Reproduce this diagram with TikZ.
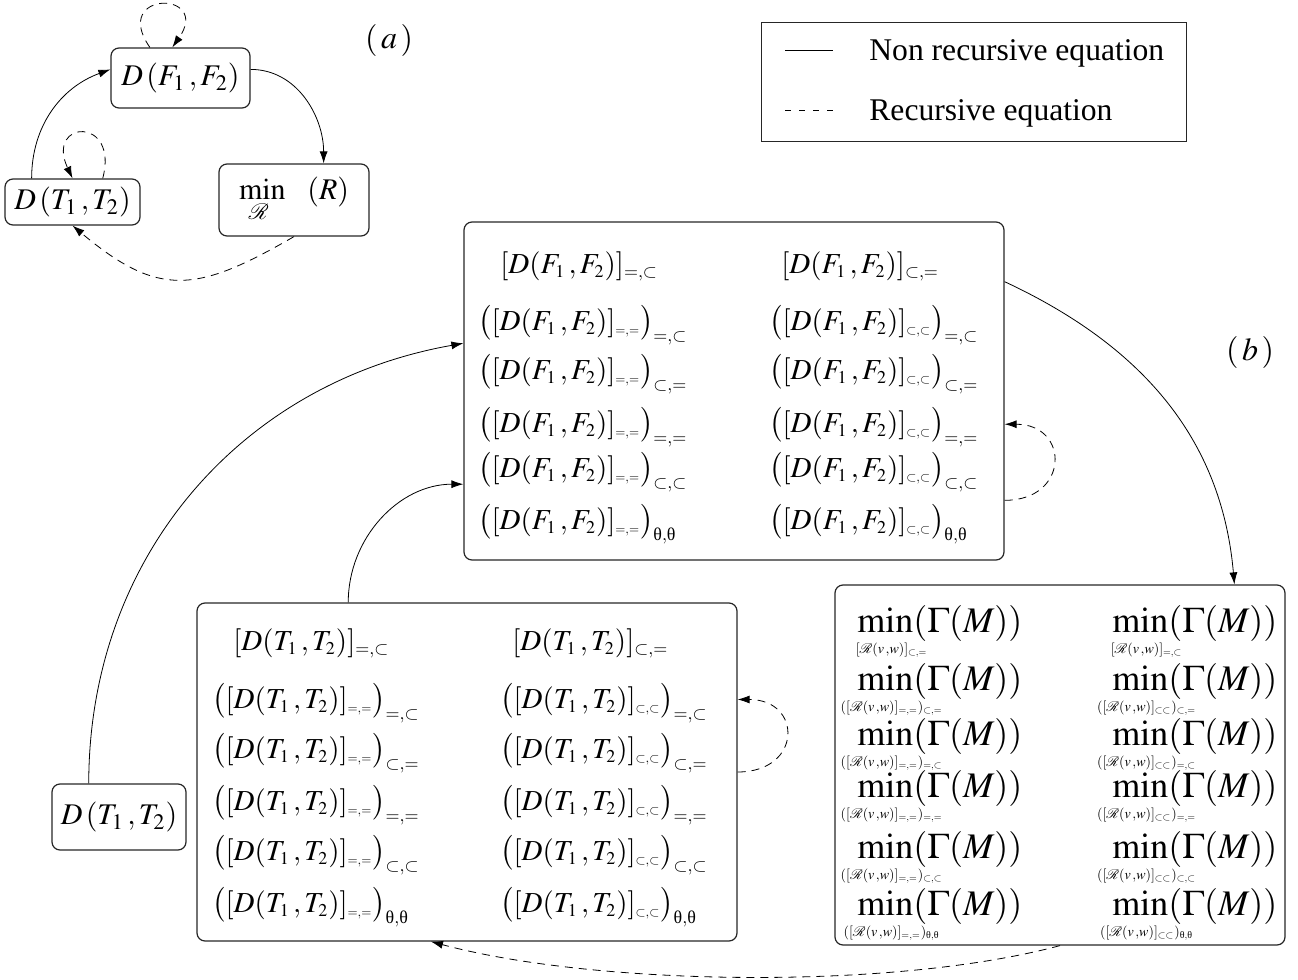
\documentclass[tikz,border=0pt]{standalone}
\usepackage{mathtools}
\usepackage{mathptmx}
\usepackage{fontspec}
\setmainfont{Liberation Serif}
\usetikzlibrary{arrows.meta}

\DeclareMathSizes{14.5}{14.5}{9}{6.5}
\DeclareMathSizes{18}{18}{7}{5}

\newcommand{\DF}{D(F_1\,,F_2)}
\newcommand{\DT}{D(T_1\,,T_2)}
\newcommand{\RR}{\mathcal{R}(v\,,w)}
\newcommand{\thth}{\text{θ},\text{θ}}
\newcommand{\mingam}[1]{\min\limits_{\mathclap{\mkern16mu #1}}(\Gamma(M))}

\tikzset{
  box/.style={draw=black!85, rounded corners=4pt, inner sep=0pt, line width=0.6pt},
  small/.style={box, font=\fontsize{15}{18}\selectfont},
  eq/.style={anchor=base west, inner sep=0pt, font=\fontsize{14.5}{17}\selectfont},
  mineq/.style={anchor=base west, inner sep=0pt, font=\fontsize{18}{20}\selectfont},
  lbl/.style={font=\fontsize{16}{19}\selectfont},
  leg/.style={anchor=base west, inner sep=0pt, font=\fontsize{15.8}{19}\selectfont},
  rec/.style={dash pattern=on 4pt off 3pt},
  >={Latex[length=6pt,width=4pt]}
}

\begin{document}
\begin{tikzpicture}[x=0.5pt,y=-0.5pt]
  \useasboundingbox (0,0) rectangle (1298,980);

  % (a)
  \node (dF) [small, minimum width=69.5pt, minimum height=30pt] at (180.5,78) {$D\,(F_1\,,F_2)$};
  \node (minR) [small, minimum width=75pt, minimum height=36pt] at (294,200) {$\min\limits_{\mathclap{\mathcal{R}\mkern6mu}}\mkern13mu(R)$};
  \node (dT) [small, minimum width=67.5pt, minimum height=23pt] at (72.5,202) {$D\,(T_1\,,T_2)$};
  \node (a) [lbl] at (389,40) {$(\,a\,)$};

  \path[->] (dT.150) edge[out=90, in=200] (dF.173)
            (dF.7) edge[out=0, in=90] (minR.51)
            ;
  \path[->, rec] (minR.south) edge[out=210, in=-40, looseness=1.3] (dT.south)
                 (dF.135.5) edge[out=125, in=55, looseness=8] (dF.105.8)
                 (dT.38) edge[out=75, in=115, looseness=5.5] (dT.90)
                 ;

  % legend
  \node (legend) [draw=black!85, inner sep=0pt, minimum width=212.5pt, minimum height=59.5pt] at (973.5,81.5) {};
  \coordinate (s1) at (785,50);
  \coordinate (e1) at (833,50);
  \coordinate (s2) at (785,110);
  \coordinate (e2) at (833,110);
  \draw (s1) -- (e1);
  \draw[dash pattern=on 3pt off 4pt] (s2) -- (e2);
  \node (nonrec) [leg] at (869,60) {Non recursive equation};
  \node (recu) [leg] at (869,120) {Recursive equation};

  % (b)
  \node (b) [lbl] at (1250,352) {$(\,b\,)$};
  \node (dT2) [small, minimum width=67pt, minimum height=33pt] at (119,817) {$D\,(T_1\,,T_2)$};
  \node (F) [box, minimum width=270pt, minimum height=169pt] at (734,391) {};
  \node (T) [box, minimum width=270pt, minimum height=169pt] at (467,772) {};
  \node (M) [box, minimum width=225pt, minimum height=180pt] at (1060,765) {};

  % rows of F
  \node (f1) [eq] at (500,273) {$[\DF]_{=,\subset}$};
  \node (f2) [eq] at (478,330) {$\bigl([\DF]_{\scriptscriptstyle =,=}\bigr)_{=,\subset}$};
  \node (f3) [eq] at (478,379) {$\bigl([\DF]_{\scriptscriptstyle =,=}\bigr)_{\subset,=}$};
  \node (f4) [eq] at (478,432) {$\bigl([\DF]_{\scriptscriptstyle =,=}\bigr)_{=,=}$};
  \node (f5) [eq] at (478,477) {$\bigl([\DF]_{\scriptscriptstyle =,=}\bigr)_{\subset,\subset}$};
  \node (f6) [eq] at (478,529) {$\bigl([\DF]_{\scriptscriptstyle =,=}\bigr)_{\thth}$};
  \node (g1) [eq] at (781,273) {$[\DF]_{\subset,=}$};
  \node (g2) [eq] at (769,330) {$\bigl([\DF]_{\scriptscriptstyle\subset,\subset}\bigr)_{=,\subset}$};
  \node (g3) [eq] at (769,379) {$\bigl([\DF]_{\scriptscriptstyle\subset,\subset}\bigr)_{\subset,=}$};
  \node (g4) [eq] at (769,432) {$\bigl([\DF]_{\scriptscriptstyle\subset,\subset}\bigr)_{=,=}$};
  \node (g5) [eq] at (769,477) {$\bigl([\DF]_{\scriptscriptstyle\subset,\subset}\bigr)_{\subset,\subset}$};
  \node (g6) [eq] at (769,529) {$\bigl([\DF]_{\scriptscriptstyle\subset,\subset}\bigr)_{\thth}$};

  % rows of T
  \node (t1) [eq] at (233,650) {$[\DT]_{=,\subset}$};
  \node (t2) [eq] at (212,708) {$\bigl([\DT]_{\scriptscriptstyle =,=}\bigr)_{=,\subset}$};
  \node (t3) [eq] at (212,758) {$\bigl([\DT]_{\scriptscriptstyle =,=}\bigr)_{\subset,=}$};
  \node (t4) [eq] at (212,810) {$\bigl([\DT]_{\scriptscriptstyle =,=}\bigr)_{=,=}$};
  \node (t5) [eq] at (212,860) {$\bigl([\DT]_{\scriptscriptstyle =,=}\bigr)_{\subset,\subset}$};
  \node (t6) [eq] at (212,912) {$\bigl([\DT]_{\scriptscriptstyle =,=}\bigr)_{\thth}$};
  \node (u1) [eq] at (512,650) {$[\DT]_{\subset,=}$};
  \node (u2) [eq] at (500,708) {$\bigl([\DT]_{\scriptscriptstyle\subset,\subset}\bigr)_{=,\subset}$};
  \node (u3) [eq] at (500,758) {$\bigl([\DT]_{\scriptscriptstyle\subset,\subset}\bigr)_{\subset,=}$};
  \node (u4) [eq] at (500,810) {$\bigl([\DT]_{\scriptscriptstyle\subset,\subset}\bigr)_{=,=}$};
  \node (u5) [eq] at (500,860) {$\bigl([\DT]_{\scriptscriptstyle\subset,\subset}\bigr)_{\subset,\subset}$};
  \node (u6) [eq] at (500,912) {$\bigl([\DT]_{\scriptscriptstyle\subset,\subset}\bigr)_{\thth}$};

  % rows of M
  \node (m1) [mineq] at (857,632) {$\mingam{[\RR]_{\subset,=}}$};
  \node (m2) [mineq] at (857,690) {$\mingam{([\RR]_{=,=})_{\subset,=}}$};
  \node (m3) [mineq] at (857,745) {$\mingam{([\RR]_{=,=})_{=,\subset}}$};
  \node (m4) [mineq] at (857,797) {$\mingam{([\RR]_{=,=})_{=,=}}$};
  \node (m5) [mineq] at (857,858) {$\mingam{([\RR]_{=,=})_{\subset,\subset}}$};
  \node (m6) [mineq] at (857,915) {$\mingam{([\RR]_{=,=})_{\thth}}$};
  \node (n1) [mineq] at (1112,632) {$\mingam{[\RR]_{=,\subset}}$};
  \node (n2) [mineq] at (1112,690) {$\mingam{([\RR]_{\subset\subset})_{\subset,=}}$};
  \node (n3) [mineq] at (1112,745) {$\mingam{([\RR]_{\subset\subset})_{=,\subset}}$};
  \node (n4) [mineq] at (1112,797) {$\mingam{([\RR]_{\subset\subset})_{=,=}}$};
  \node (n5) [mineq] at (1112,858) {$\mingam{([\RR]_{\subset\subset})_{\subset,\subset}}$};
  \node (n6) [mineq] at (1112,915) {$\mingam{([\RR]_{\subset\subset})_{\thth}}$};

  \path[->] (dT2.132.3) edge[out=90, in=190] (F.170.3)
            (T.125.2) edge[out=90, in=180] (F.199.6)
            (F.22) edge[out=-25, in=95] (M.46.6)
            ;
  \path[->, rec] (F.-22.3) edge[out=0, in=0, looseness=2.2] (F.-7.6)
                 (T.0.85) edge[out=0, in=0, looseness=2.3] (T.15.5)
                 (M.south) edge[out=195, in=-15, looseness=0.7] (T.258.3)
                 ;
\end{tikzpicture}
\end{document}
